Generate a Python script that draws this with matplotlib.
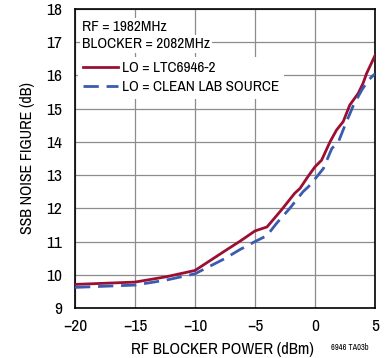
import matplotlib

matplotlib.use("Agg")
import matplotlib.pyplot as plt
from matplotlib import font_manager

# look for a condensed sans (the original uses Helvetica Narrow)
fam, stretch, k = "Liberation Sans", "normal", 0.9
for f in font_manager.fontManager.ttflist:
    if "Narrow" in f.name or "Condensed" in f.name:
        fam, stretch, k = f.name, "normal", 1.0
        break
    if f.stretch in ("condensed", "semi-condensed") and "Sans" in f.name and f.style == "normal":
        fam, stretch, k = f.name, f.stretch, 1.0
plt.rcParams["font.family"] = [fam, "DejaVu Sans"]
plt.rcParams["font.stretch"] = stretch

# LO = LTC6946-2
x_ltc = [-20, -15, -12.4, -10, -7.5, -6.25, -5, -4, -2.8, -1.7, -1.25, -0.6, 0, 0.55,
         1.25, 1.8, 2.35, 2.9, 3.6, 4.0, 4.3, 5]
nf_ltc = [9.71, 9.78, 9.94, 10.13, 10.72, 11.01, 11.32, 11.44, 11.95, 12.45, 12.6, 12.95,
          13.25, 13.45, 14.0, 14.36, 14.61, 15.11, 15.46, 15.76, 16.06, 16.6]
# LO = clean lab source
x_lab = [-20, -15, -12.4, -10, -7.5, -6.25, -5, -4, -3.2, -2.1, -1.0, -0.55, 0.15, 0.7,
         1.4, 1.95, 2.5, 3.2, 3.9, 4.45, 5]
nf_lab = [9.62, 9.69, 9.84, 10.03, 10.49, 10.76, 11.0, 11.18, 11.55, 12.0, 12.5, 12.65,
          12.95, 13.2, 13.8, 14.0, 14.5, 15.1, 15.56, 15.86, 16.05]

fig = plt.figure(figsize=(3.86, 3.58), dpi=100)
ax = fig.add_axes([75 / 386, 1 - 308 / 358, 300 / 386, 299 / 358])

ax.plot(x_ltc, nf_ltc, color="#9a0f32", lw=2.0, label="LO = LTC6946-2", zorder=3)
ax.plot(x_lab, nf_lab, color="#3b5bb0", lw=2.0, dashes=(5.5, 2.8),
        label="LO = CLEAN LAB SOURCE", zorder=3)

ax.set_xlim(-20, 5)
ax.set_ylim(9, 18)
ax.set_xticks(range(-20, 6, 5))
ax.set_xticklabels(["\u221220", "\u221215", "\u221210", "\u22125", "0", "5"])
ax.set_yticks(range(9, 19))
ax.tick_params(length=0, labelsize=12.5 * k)
ax.tick_params(axis="x", pad=8)
ax.tick_params(axis="y", pad=9)
ax.grid(color="#8c8c8c", lw=0.9)
ax.set_axisbelow(True)
for s in ax.spines.values():
    s.set_linewidth(1.2)

ax.set_xlabel("RF BLOCKER POWER (dBm)", fontsize=12 * k, labelpad=4)
ax.set_ylabel("SSB NOISE FIGURE (dB)", fontsize=11.5 * k, labelpad=8)
ax.xaxis.set_label_coords(0.49, -0.115)

box = dict(facecolor="white", edgecolor="none", pad=1.5)
ax.text(-19.4, 17.45, "RF = 1982MHz", fontsize=11 * k, va="center", ha="left", bbox=box, zorder=4)
ax.text(-19.4, 16.95, "BLOCKER = 2082MHz", fontsize=11 * k, va="center", ha="left", bbox=box, zorder=4)

leg = ax.legend(loc="upper left", bbox_to_anchor=(0.01, 0.84), fontsize=11 * k, frameon=True,
                fancybox=False, edgecolor="none", framealpha=1, handlelength=2.3,
                handletextpad=0.3, borderpad=0.3, labelspacing=0.3, borderaxespad=0)
leg.set_zorder(4)

fig.text(350 / 386, 1 - 347 / 358, "6946 TA03b", fontsize=6 * k, ha="center", va="center")

fig.savefig("out.png", dpi=100)
